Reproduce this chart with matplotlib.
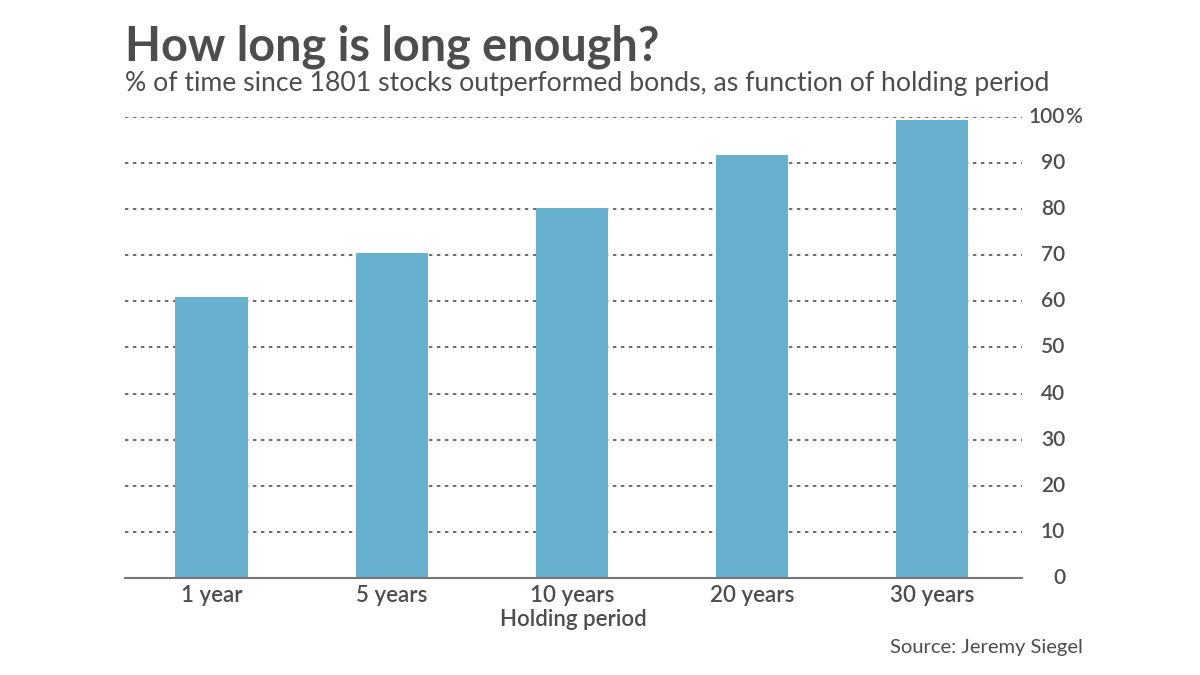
import matplotlib.pyplot as plt
from matplotlib import transforms

# data
periods = ['1 year', '5 years', '10 years', '20 years', '30 years']
pct_outperformed = [61.0, 70.4, 80.2, 91.8, 99.3]
y_ticks = [0, 10, 20, 30, 40, 50, 60, 70, 80, 90, 100]

plt.rcParams['font.family'] = ['Lato', 'DejaVu Sans']
text_col = '#4d4d4d'
bar_col = '#67b0ce'

fig = plt.figure(figsize=(12, 6.75), dpi=100)
ax = fig.add_axes([0.1042, 0.1437, 0.7475, 0.683])

x = range(len(periods))
ax.bar(x, pct_outperformed, width=0.4, color=bar_col, zorder=2)

ax.set_xlim(-0.48, 4.5)
ax.set_ylim(0, 100)
ax.set_xticks(list(x))
ax.set_xticklabels(periods, fontsize=16, color=text_col, fontweight='semibold')
ax.tick_params(axis='x', length=0, pad=5)

# y labels on the right, numbers right aligned, % hanging after 100
ax.set_yticks(y_ticks)
ax.set_yticklabels([])
ax.tick_params(axis='y', length=0)
trans = transforms.blended_transform_factory(fig.transFigure, ax.transData)
for v in y_ticks:
    ax.text(1065 / 1200, v, str(v), transform=trans, ha='right', va='center',
            fontsize=15, color=text_col, fontweight='semibold')
ax.text(1065 / 1200, 100, '%', transform=trans, ha='left', va='center',
        fontsize=15, color=text_col, fontweight='semibold')

ax.grid(axis='y', color='#555555', linestyle=(0, (2.0, 2.8)), linewidth=1.2, zorder=0)
ax.grid(axis='x', visible=False)
for s in ['top', 'right', 'left']:
    ax.spines[s].set_visible(False)
ax.spines['bottom'].set_color('#777777')
ax.spines['bottom'].set_linewidth(1.5)
ax.spines['bottom'].set_zorder(3)

ax.set_xlabel('Holding period', fontsize=16, color=text_col, fontweight='semibold',
              labelpad=2)

fig.text(125 / 1200, 1 - 47 / 675, 'How long is long enough?', fontsize=33.7,
         fontweight='bold', color=text_col, ha='left', va='center')
fig.text(125 / 1200, 1 - 84 / 675,
         '% of time since 1801 stocks outperformed bonds, as function of holding period',
         fontsize=19.2, color=text_col, ha='left', va='center')
fig.text(1083 / 1200, 1 - 648 / 675, 'Source: Jeremy Siegel', fontsize=14.5,
         color=text_col, ha='right', va='center')

fig.savefig('out.png', dpi=100, facecolor='white')
